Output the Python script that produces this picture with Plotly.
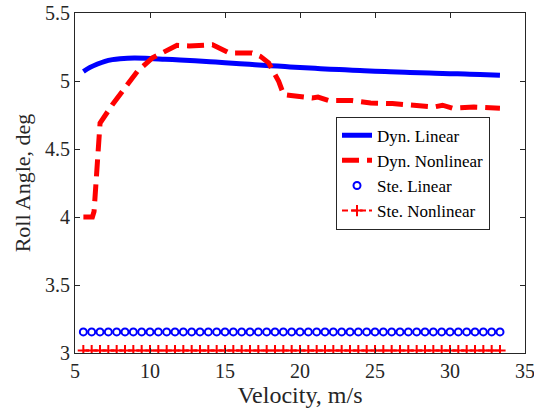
import plotly.graph_objects as go

# ---- data ----
vel_dyn_lin = [5.56, 6.0, 6.5, 7.0, 7.5, 8.0, 8.5, 9.0, 10.0, 11.0, 12.0, 13.0, 14.0,
               15.0, 16.0, 17.0, 18.0, 19.0, 20.0, 21.0, 22.0, 23.0, 24.0, 25.0, 26.0,
               27.0, 28.0, 29.0, 30.0, 31.0, 32.0, 33.33]
roll_dyn_lin = [5.07, 5.10, 5.125, 5.145, 5.157, 5.164, 5.168, 5.169, 5.166, 5.160, 5.155,
                5.149, 5.142, 5.135, 5.127, 5.120, 5.113, 5.106, 5.099, 5.093, 5.087,
                5.082, 5.077, 5.072, 5.068, 5.064, 5.060, 5.057, 5.054, 5.051, 5.048, 5.043]

vel_dyn_nl = [5.56, 6.16, 6.27, 6.38, 6.45, 6.54, 6.67, 7.49, 8.27, 9.16, 10.16, 11.39,
              11.8, 12.6, 14.17, 15.29, 16.8, 17.36, 17.91, 18.58, 18.91, 19.25, 20.81,
              21.2, 21.92, 23.48, 24.71, 26.16, 27.38, 28.93, 29.5, 30.16, 31.6, 32.94, 33.33]
roll_dyn_nl = [4.00, 4.00, 4.04, 4.25, 4.385, 4.557, 4.69, 4.826, 4.936, 5.071, 5.17, 5.243,
               5.262, 5.258, 5.267, 5.206, 5.206, 5.181, 5.133, 4.997, 4.90, 4.895, 4.875,
               4.882, 4.856, 4.856, 4.839, 4.834, 4.819, 4.809, 4.822, 4.80, 4.809, 4.80, 4.80]

# steady-state results, 20..120 km/h in 2 km/h steps
vel_kmh = list(range(20, 121, 2))
vel_ste = [v / 3.6 for v in vel_kmh]
roll_ste_lin = [3.155] * len(vel_ste)
roll_ste_nl = [3.018] * len(vel_ste)

x_ticks = [5, 10, 15, 20, 25, 30, 35]
y_ticks = [3, 3.5, 4, 4.5, 5, 5.5]

BLUE = "#0000FF"
RED = "#FF0000"
AX = "#262626"
FONT = "Liberation Serif"

fig = go.Figure()
fig.add_trace(go.Scatter(x=vel_dyn_lin, y=roll_dyn_lin, mode="lines", name="Dyn. Linear",
                         line=dict(color=BLUE, width=5, shape="spline")))
fig.add_trace(go.Scatter(x=vel_dyn_nl, y=roll_dyn_nl, mode="lines", name="Dyn. Nonlinear",
                         line=dict(color=RED, width=5, dash="17px,8px")))
fig.add_trace(go.Scatter(x=vel_ste, y=roll_ste_lin, mode="markers", name="Ste. Linear",
                         marker=dict(symbol="circle-open", size=7, color=BLUE,
                                     line=dict(width=2, color=BLUE))))
fig.add_trace(go.Scatter(x=vel_ste, y=roll_ste_nl, mode="lines+markers", name="Ste. Nonlinear",
                         line=dict(color=RED, width=2, dash="6px,3px"),
                         marker=dict(symbol="cross-thin-open", size=8, color=RED,
                                     line=dict(width=2, color=RED))))

axis_common = dict(showline=True, linecolor=AX, linewidth=1, mirror="allticks",
                   ticks="inside", ticklen=5, tickcolor=AX, tickwidth=1,
                   showgrid=False, zeroline=False, automargin=False,
                   ticklabeloverflow="allow",
                   tickfont=dict(family=FONT, size=20, color=AX))

fig.update_xaxes(range=[5, 35], tickvals=x_ticks, ticktext=[str(v) for v in x_ticks],
                 title=dict(text="Velocity, m/s", font=dict(family=FONT, size=24, color=AX),
                            standoff=4),
                 **axis_common)
fig.update_yaxes(range=[3, 5.5], tickvals=y_ticks, ticktext=[f"{v:g}" for v in y_ticks],
                 title=dict(text="Roll Angle, deg", font=dict(family=FONT, size=22, color=AX),
                            standoff=8),
                 **axis_common)

fig.update_layout(
    width=534, height=416,
    margin=dict(l=75, r=9, t=13, b=63),
    paper_bgcolor="white", plot_bgcolor="white",
    font=dict(family=FONT, color=AX),
    showlegend=True,
    legend=dict(x=0.58, y=0.695, xanchor="left", yanchor="top",
                bgcolor="white", bordercolor=AX, borderwidth=1,
                font=dict(family=FONT, size=17, color="black"),
                tracegroupgap=0, itemwidth=30),
)

fig.write_html("out.html")
